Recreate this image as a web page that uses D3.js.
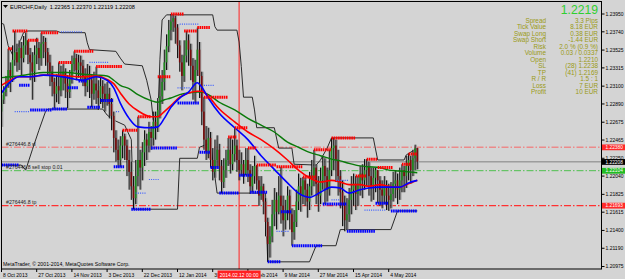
<!DOCTYPE html>
<html><head><meta charset="utf-8">
<script src="https://cdn.jsdelivr.net/npm/d3@7"></script>
<style>
html,body{margin:0;padding:0;background:#d4d4d4;}
svg{display:block;font-family:"Liberation Sans",Arial,sans-serif;}
</style></head><body>
<svg id="chart" width="625" height="279"></svg>
<script>
// EURCHF Daily, one bar per trading day (bar 0 = 8 Oct 2013)
const firstOpen = 1.2280;
const closes = [
1.2294,1.2303,1.2311,1.2329,1.2320,1.2341,1.2350,1.2338,1.2355,1.2343,
1.2358,1.2364,1.2347,1.2338,1.2327,1.2347,1.2355,1.2343,1.2360,1.2362,
1.2350,1.2338,1.2327,1.2315,1.2301,1.2310,1.2305,1.2322,1.2327,1.2313,
1.2303,1.2320,1.2336,1.2343,1.2329,1.2338,1.2334,1.2322,1.2310,1.2324,
1.2317,1.2301,1.2313,1.2305,1.2296,1.2310,1.2301,1.2294,1.2301,1.2289,
1.2275,1.2249,1.2235,1.2223,1.2240,1.2251,1.2240,1.2223,1.2209,1.2192,
1.2178,1.2204,1.2223,1.2214,1.2232,1.2247,1.2240,1.2256,1.2249,1.2268,
1.2263,1.2282,1.2298,1.2315,1.2338,1.2357,1.2376,1.2386,1.2390,1.2379,
1.2358,1.2338,1.2322,1.2346,1.2364,1.2353,1.2334,1.2315,1.2329,1.2353,
1.2322,1.2280,1.2247,1.2232,1.2249,1.2223,1.2209,1.2223,1.2235,1.2216,
1.2197,1.2211,1.2223,1.2235,1.2218,1.2230,1.2240,1.2223,1.2211,1.2218,
1.2207,1.2223,1.2211,1.2192,1.2204,1.2216,1.2199,1.2181,1.2192,1.2174,
1.2150,1.2124,1.2133,1.2159,1.2176,1.2162,1.2181,1.2169,1.2152,1.2164,
1.2181,1.2159,1.2138,1.2150,1.2174,1.2192,1.2181,1.2199,1.2188,1.2174,
1.2192,1.2204,1.2214,1.2195,1.2181,1.2199,1.2216,1.2204,1.2188,1.2211,
1.2237,1.2240,1.2223,1.2204,1.2185,1.2169,1.2152,1.2159,1.2176,1.2188,
1.2195,1.2183,1.2195,1.2207,1.2199,1.2211,1.2216,1.2204,1.2192,1.2202,
1.2211,1.2199,1.2188,1.2181,1.2192,1.2181,1.2176,1.2183,1.2195,1.2199,
1.2188,1.2199,1.2211,1.2204,1.2216,1.2223,1.2211,1.2225,1.2237,1.2221];
const highs = [
1.2300,1.2310,1.2322,1.2354,1.2338,1.2358,1.2375,1.2360,1.2364,1.2362,
1.2369,1.2373,1.2364,1.2355,1.2350,1.2358,1.2367,1.2362,1.2373,1.2369,
1.2367,1.2355,1.2347,1.2334,1.2320,1.2324,1.2338,1.2334,1.2336,1.2331,
1.2323,1.2329,1.2346,1.2351,1.2348,1.2347,1.2346,1.2341,1.2331,1.2336,
1.2334,1.2324,1.2327,1.2333,1.2317,1.2322,1.2317,1.2313,1.2315,1.2308,
1.2296,1.2280,1.2258,1.2247,1.2251,1.2258,1.2254,1.2247,1.2235,1.2221,
1.2204,1.2223,1.2274,1.2235,1.2244,1.2258,1.2254,1.2268,1.2263,1.2280,
1.2280,1.2296,1.2321,1.2329,1.2353,1.2371,1.2388,1.2395,1.2395,1.2393,
1.2383,1.2364,1.2347,1.2364,1.2375,1.2371,1.2360,1.2343,1.2341,1.2379,
1.2362,1.2327,1.2297,1.2263,1.2261,1.2256,1.2237,1.2247,1.2252,1.2242,
1.2223,1.2225,1.2235,1.2249,1.2250,1.2247,1.2261,1.2247,1.2235,1.2232,
1.2223,1.2237,1.2237,1.2218,1.2216,1.2228,1.2217,1.2204,1.2204,1.2195,
1.2178,1.2155,1.2145,1.2176,1.2190,1.2185,1.2204,1.2215,1.2181,1.2176,
1.2192,1.2188,1.2166,1.2164,1.2188,1.2207,1.2202,1.2203,1.2202,1.2195,
1.2209,1.2223,1.2235,1.2218,1.2204,1.2214,1.2228,1.2225,1.2214,1.2235,
1.2249,1.2249,1.2247,1.2235,1.2211,1.2199,1.2181,1.2178,1.2190,1.2204,
1.2207,1.2204,1.2204,1.2216,1.2218,1.2224,1.2224,1.2221,1.2214,1.2214,
1.2214,1.2211,1.2204,1.2199,1.2204,1.2199,1.2195,1.2197,1.2209,1.2211,
1.2207,1.2214,1.2218,1.2216,1.2228,1.2230,1.2228,1.2235,1.2241,1.2237];
const lows = [
1.2262,1.2289,1.2298,1.2308,1.2303,1.2315,1.2334,1.2327,1.2329,1.2323,
1.2338,1.2347,1.2336,1.2317,1.2294,1.2315,1.2336,1.2329,1.2334,1.2343,
1.2334,1.2323,1.2310,1.2298,1.2284,1.2291,1.2289,1.2298,1.2305,1.2296,
1.2284,1.2296,1.2313,1.2327,1.2317,1.2320,1.2317,1.2310,1.2298,1.2303,
1.2296,1.2285,1.2294,1.2289,1.2282,1.2289,1.2284,1.2280,1.2287,1.2272,
1.2258,1.2232,1.2221,1.2214,1.2215,1.2225,1.2223,1.2204,1.2188,1.2176,
1.2165,1.2171,1.2192,1.2188,1.2199,1.2216,1.2223,1.2232,1.2235,1.2240,
1.2247,1.2256,1.2272,1.2289,1.2305,1.2329,1.2350,1.2364,1.2374,1.2360,
1.2343,1.2327,1.2305,1.2315,1.2338,1.2334,1.2317,1.2294,1.2290,1.2322,
1.2296,1.2264,1.2235,1.2223,1.2225,1.2214,1.2199,1.2202,1.2214,1.2199,
1.2184,1.2190,1.2202,1.2216,1.2207,1.2211,1.2221,1.2209,1.2199,1.2204,
1.2195,1.2205,1.2197,1.2183,1.2185,1.2195,1.2188,1.2169,1.2176,1.2159,
1.2133,1.2103,1.2108,1.2126,1.2145,1.2141,1.2159,1.2148,1.2133,1.2141,
1.2152,1.2141,1.2122,1.2129,1.2144,1.2164,1.2162,1.2171,1.2169,1.2155,
1.2164,1.2181,1.2192,1.2171,1.2162,1.2171,1.2188,1.2171,1.2174,1.2181,
1.2204,1.2211,1.2197,1.2181,1.2166,1.2145,1.2139,1.2141,1.2150,1.2159,
1.2169,1.2164,1.2169,1.2181,1.2178,1.2188,1.2192,1.2181,1.2174,1.2176,
1.2185,1.2172,1.2169,1.2166,1.2171,1.2164,1.2163,1.2166,1.2174,1.2178,
1.2171,1.2176,1.2185,1.2185,1.2190,1.2199,1.2195,1.2204,1.2211,1.2212];

// moving averages, read at these bars
const maBars = [0,4,8,13,19,25,30,37,43,48,51,54,58,62,68,71,74,77,81,85,89,91,94,99,106,112,118,124,130,135,140,145,150,154,158,163,167,172,176,181,185,189];
const maFast = [1.2302,1.2315,1.2321,1.2321,1.2323,1.2322,1.2320,1.2317,1.2321,1.2317,1.2308,1.2290,1.2272,1.2262,1.2261,1.2262,1.2272,1.2285,1.2296,1.2303,1.2314,1.2309,1.2296,1.2278,1.2261,1.2247,1.2228,1.2212,1.2196,1.2184,1.2179,1.2185,1.2191,1.2190,1.2184,1.2188,1.2190,1.2191,1.2191,1.2191,1.2196,1.2199];
const maMid = [1.2311,1.2317,1.2321,1.2321,1.2323,1.2323,1.2322,1.2321,1.2322,1.2318,1.2313,1.2302,1.2289,1.2281,1.2274,1.2274,1.2280,1.2287,1.2297,1.2302,1.2304,1.2304,1.2298,1.2283,1.2268,1.2256,1.2247,1.2236,1.2223,1.2211,1.2202,1.2197,1.2199,1.2197,1.2194,1.2194,1.2192,1.2194,1.2192,1.2191,1.2195,1.2199];
const maSlow = [1.2320,1.2321,1.2322,1.2324,1.2326,1.2326,1.2326,1.2324,1.2323,1.2322,1.2317,1.2311,1.2307,1.2300,1.2293,1.2291,1.2294,1.2296,1.2300,1.2302,1.2303,1.2303,1.2300,1.2291,1.2282,1.2272,1.2264,1.2256,1.2244,1.2238,1.2232,1.2228,1.2224,1.2222,1.2219,1.2216,1.2215,1.2214,1.2211,1.2210,1.2209,1.2208];

// trailing channel (upper / lower), [bar, price]
const upperLine = [[0,1.2384],[1,1.2383],[3,1.2358],[5,1.2347],[7,1.2353],[10,1.2373],[12,1.2375],[25,1.2375],[27,1.2373],[38,1.2373],[39,1.2361],[40,1.2353],[52,1.2351],[54,1.2343],[56,1.2336],[64,1.2334],[66,1.2317],[68,1.2294],[69,1.2270],[71,1.2268],[72,1.2341],[73,1.2388],[75,1.2394],[96,1.2394],[97,1.2380],[98,1.2376],[107,1.2376],[108,1.2362],[109,1.2333],[110,1.2297],[114,1.2297],[115,1.2282],[116,1.2261],[124,1.2261],[126,1.2237],[132,1.2237],[133,1.2218],[143,1.2217],[145,1.2223],[148,1.2237],[150,1.2249],[169,1.2249],[171,1.2223],[183,1.2223],[184,1.2229],[189,1.2237]];
const lowerLine = [[0,1.2217],[9,1.2217],[11,1.2211],[14,1.2235],[17,1.2258],[20,1.2280],[21,1.2283],[46,1.2283],[48,1.2276],[51,1.2270],[56,1.2264],[59,1.2247],[60,1.2165],[80,1.2165],[81,1.2225],[89,1.2225],[90,1.2238],[95,1.2243],[96,1.2223],[98,1.2184],[120,1.2184],[121,1.2103],[140,1.2103],[143,1.2122],[152,1.2122],[154,1.2141],[177,1.2141],[180,1.2163],[189,1.2163]];

// fractal levels [fromBar, toBar, price]
const redLevels = [[3,5,1.2354],[5,12,1.2375],[12,17,1.2364],[18,26,1.2373],[26,32,1.2338],[33,42,1.2351],[43,55,1.2333],[55,62,1.2258],[62,68,1.2274],[71,77,1.2321],[77,83,1.2395],[83,89,1.2375],[89,95,1.2379],[92,103,1.2297],[103,107,1.2250],[106,112,1.2261],[112,116,1.2237],[116,125,1.2217],[125,137,1.2215],[137,143,1.2203],[142,150,1.2235],[150,161,1.2249],[161,166,1.2204],[166,171,1.2224],[171,178,1.2214],[182,186,1.2218],[185,189,1.2230]];
const blueLevels = [[0,8,1.2217],[8,13,1.2311],[13,23,1.2282],[23,30,1.2283],[30,35,1.2308],[35,39,1.2316],[39,45,1.2285],[45,51,1.2293],[51,56,1.2215],[59,68,1.2165],[68,80,1.2237],[80,90,1.2290],[90,95,1.2232],[95,99,1.2214],[99,108,1.2184],[108,114,1.2205],[113,121,1.2185],[121,127,1.2103],[127,132,1.2162],[132,146,1.2122],[146,157,1.2171],[157,170,1.2139],[170,176,1.2172],[177,189,1.2163]];
const blueDots = [[27,37,1.2374],[40,49,1.2338],[81,90,1.2383],[80,86,1.2308],[92,97,1.2311],[52,54,1.2280],[67,72,1.2200],[61,66,1.2184],[6,13,1.2280],[125,131,1.2139],[165,175,1.2164],[152,158,1.2199],[150,154,1.2176]];

// order lines
const slPrice = 1.22380, openPrice = 1.22104, tpPrice = 1.21693, bidPrice = 1.22208;
const orderTexts = ["#276446.8 sl", "#276446.8 sell stop 0.01", "#276446.8 tp"];

// axes
const priceTicks = ["1.23950","1.23740","1.23525","1.23315","1.23100","1.22890","1.22675","1.22465","1.22250","1.22040","1.21825","1.21615","1.21400","1.21190","1.20975"];
const dateBars = [0,16,32,48,64,80,96,112,128,144,160,176];
const dateLabels = ["8 Oct 2013","27 Oct 2013","14 Nov 2013","3 Dec 2013","22 Dec 2013","12 Jan 2014","30 Jan 2014","18 Feb 2014","9 Mar 2014","27 Mar 2014","15 Apr 2014","4 May 2014"];
const vlineBar = 108, vlineLabel = "2014.02.12 00:00";

// info panel
const bigPrice = "1.2219";
const infoLabels = ["Spread","Tick Value","Swap Long","Swap Short","Risk","Volume","Open","SL","TP","R / R","Loss","Profit"];
const infoValues = ["3.3 Pips","8.18 EUR","0.38 EUR","-1.44 EUR","2.0 % (0.9 %)","0.03 / 0.0337","1.2210","(28) 1.2238","(41) 1.2169","1.5 : 1","7 EUR","10 EUR"];
const headerText = "EURCHF,Daily  1.22365 1.22370 1.22119 1.22208";

const svg = d3.select('#chart');
const L = 1.5, T = 1.5, R = 601.5, B = 269;

const x = d3.scaleLinear().domain([0, 272]).range([1.5, 599.9]);
const y = d3.scaleLinear().domain([1.20975, 1.23950]).range([266.5, 14]);

svg.append('rect').attr('width', 625).attr('height', 279).attr('fill', '#d4d4d4');
svg.append('clipPath').attr('id', 'clip').append('rect')
	.attr('x', L).attr('y', T).attr('width', R - L).attr('height', B - T);
const g = svg.append('g').attr('clip-path', 'url(#clip)');

// order level lines
function level(p, color, dash, w) {
	g.append('line').attr('x1', L).attr('x2', R).attr('y1', y(p)).attr('y2', y(p))
		.attr('stroke', color).attr('stroke-width', w).attr('stroke-dasharray', dash);
}
level(bidPrice, '#808080', null, 1);
level(slPrice, '#ec8a8a', '7,2,1.5,2', 1.3);
level(openPrice, '#4fbf4f', '7,2,1.5,2', 1);
level(tpPrice, '#ff3030', '7,2,1.5,2', 1.3);

// vertical marker
g.append('line').attr('x1', x(vlineBar)).attr('x2', x(vlineBar)).attr('y1', T).attr('y2', B)
	.attr('stroke', '#ff2020').attr('stroke-width', 1);

// channel
const chan = d3.line().x(d => x(d[0])).y(d => y(d[1]));
[upperLine, lowerLine].forEach(pts => {
	g.append('path').attr('d', chan(pts)).attr('fill', 'none')
		.attr('stroke', '#2a2a2a').attr('stroke-width', 1);
});

// candles
const bars = closes.map((c, i) => ({
	i: i, o: i ? closes[i - 1] : firstOpen, c: c, h: highs[i], l: lows[i]
}));
g.append('g').selectAll('rect').data(bars).enter().append('rect')
	.attr('x', d => x(d.i) + 0.2).attr('width', 1.6)
	.attr('y', d => y(Math.max(d.h, d.o, d.c)))
	.attr('height', d => y(Math.min(d.l, d.o, d.c)) - y(Math.max(d.h, d.o, d.c)))
	.attr('fill', '#9c9c9c');
g.append('g').selectAll('line').data(bars).enter().append('line')
	.attr('x1', d => x(d.i)).attr('x2', d => x(d.i))
	.attr('y1', d => y(Math.max(d.h, d.o, d.c))).attr('y2', d => y(Math.min(d.l, d.o, d.c)))
	.attr('stroke', '#000').attr('stroke-width', 0.9);
g.append('g').selectAll('rect').data(bars).enter().append('rect')
	.attr('x', d => x(d.i) - 0.8).attr('width', 1.6)
	.attr('y', d => y(Math.max(d.o, d.c)))
	.attr('height', d => Math.max(0.8, Math.abs(y(d.o) - y(d.c))))
	.attr('fill', d => d.c >= d.o ? '#1d8a1d' : '#7a0a0a');

// moving averages
function ma(vals, color, w) {
	const line = d3.line().curve(d3.curveMonotoneX).x((d, k) => x(maBars[k])).y(d => y(d));
	g.append('path').attr('d', line(vals)).attr('fill', 'none')
		.attr('stroke', color).attr('stroke-width', w);
}
ma(maSlow, '#0a7a0a', 1.4);
ma(maMid, '#ff0000', 1.6);
ma(maFast, '#0000ff', 1.6);

// fractal levels
function marks(data, color, w, dash) {
	g.append('g').selectAll('line').data(data).enter().append('line')
		.attr('x1', d => x(d[0])).attr('x2', d => x(d[1]))
		.attr('y1', d => y(d[2])).attr('y2', d => y(d[2]))
		.attr('stroke', color).attr('stroke-width', w).attr('stroke-dasharray', dash);
}
marks(blueDots, '#3a5cff', 1.2, '1,1.2');
marks(redLevels, '#ff0000', 3, '1.6,0.6');
marks(blueLevels, '#0000ff', 3, '1.6,0.6');

// order labels
const fs = 5.2;
[slPrice, openPrice, tpPrice].forEach((p, k) => {
	g.append('text').attr('x', 6).attr('y', y(p) - 1.5).attr('font-size', fs)
		.attr('fill', '#222').text(orderTexts[k]);
});

// header and copyright
svg.append('path').attr('d', 'M3,5 L8,5 L5.5,8 Z').attr('fill', '#000');
svg.append('text').attr('x', 10).attr('y', 8.5).attr('font-size', 5.6).attr('fill', '#000')
	.attr('xml:space', 'preserve').text(headerText);
svg.append('text').attr('x', 3).attr('y', 266).attr('font-size', 5.2).attr('fill', '#000')
	.text('MetaTrader, \u00a9 2001-2014, MetaQuotes Software Corp.');

// info panel
svg.append('text').attr('x', 598).attr('y', 14).attr('text-anchor', 'end')
	.attr('font-size', 12.2).attr('fill', '#2fcf2f').text(bigPrice);
infoLabels.forEach((lab, k) => {
	const yy = 23 + k * 6.45;
	svg.append('text').attr('x', 546).attr('y', yy).attr('text-anchor', 'end')
		.attr('font-size', 6.4).attr('fill', '#9a9a14').text(lab);
	svg.append('text').attr('x', 598).attr('y', yy).attr('text-anchor', 'end')
		.attr('font-size', 6.4).attr('fill', '#9a9a14').text(infoValues[k]);
});

// frame
svg.append('rect').attr('x', L).attr('y', T).attr('width', R - L).attr('height', B - T)
	.attr('fill', 'none').attr('stroke', '#000').attr('stroke-width', 1);

// price axis
const pa = svg.append('g');
priceTicks.forEach(t => {
	const yy = y(+t);
	pa.append('line').attr('x1', R).attr('x2', R + 3).attr('y1', yy).attr('y2', yy).attr('stroke', '#000');
	pa.append('text').attr('x', 605.5).attr('y', yy + 1.8).attr('font-size', 5).attr('fill', '#000').text(t);
});

// price tags
function tag(p, bg, label) {
	const yy = y(p);
	pa.append('rect').attr('x', 602).attr('y', yy - 2.8).attr('width', 23).attr('height', 5.8).attr('fill', bg);
	pa.append('text').attr('x', 605.5).attr('y', yy + 1.7).attr('font-size', 4.8).attr('fill', '#fff').text(label);
}
tag(slPrice, '#ff2a2a', slPrice.toFixed(5));
tag(bidPrice, '#000', bidPrice.toFixed(5));
tag(openPrice, '#22bb22', openPrice.toFixed(5));
tag(tpPrice, '#ff2a2a', tpPrice.toFixed(5));

// time axis; the marker's date box sits over the labels it covers
const ta = svg.append('g');
const boxL = x(vlineBar) - 21.5, boxR = x(vlineBar) + 21.5;
svg.append('clipPath').attr('id', 'tclip').append('path')
	.attr('d', `M0,269H${boxL}V279H0Z M${boxR},269H625V279H${boxR}Z`);
const tl = ta.append('g').attr('clip-path', 'url(#tclip)');
dateBars.forEach((b, k) => {
	const xx = x(b);
	ta.append('line').attr('x1', xx).attr('x2', xx).attr('y1', B).attr('y2', B + 3).attr('stroke', '#000');
	tl.append('text').attr('x', xx + 1.5).attr('y', 277).attr('font-size', 5).attr('fill', '#000').text(dateLabels[k]);
});
ta.append('rect').attr('x', boxL).attr('y', 270.5).attr('width', 43).attr('height', 8).attr('fill', '#ff2020');
ta.append('text').attr('x', x(vlineBar)).attr('y', 277).attr('text-anchor', 'middle')
	.attr('font-size', 5).attr('fill', '#fff').text(vlineLabel);
</script>
</body></html>
